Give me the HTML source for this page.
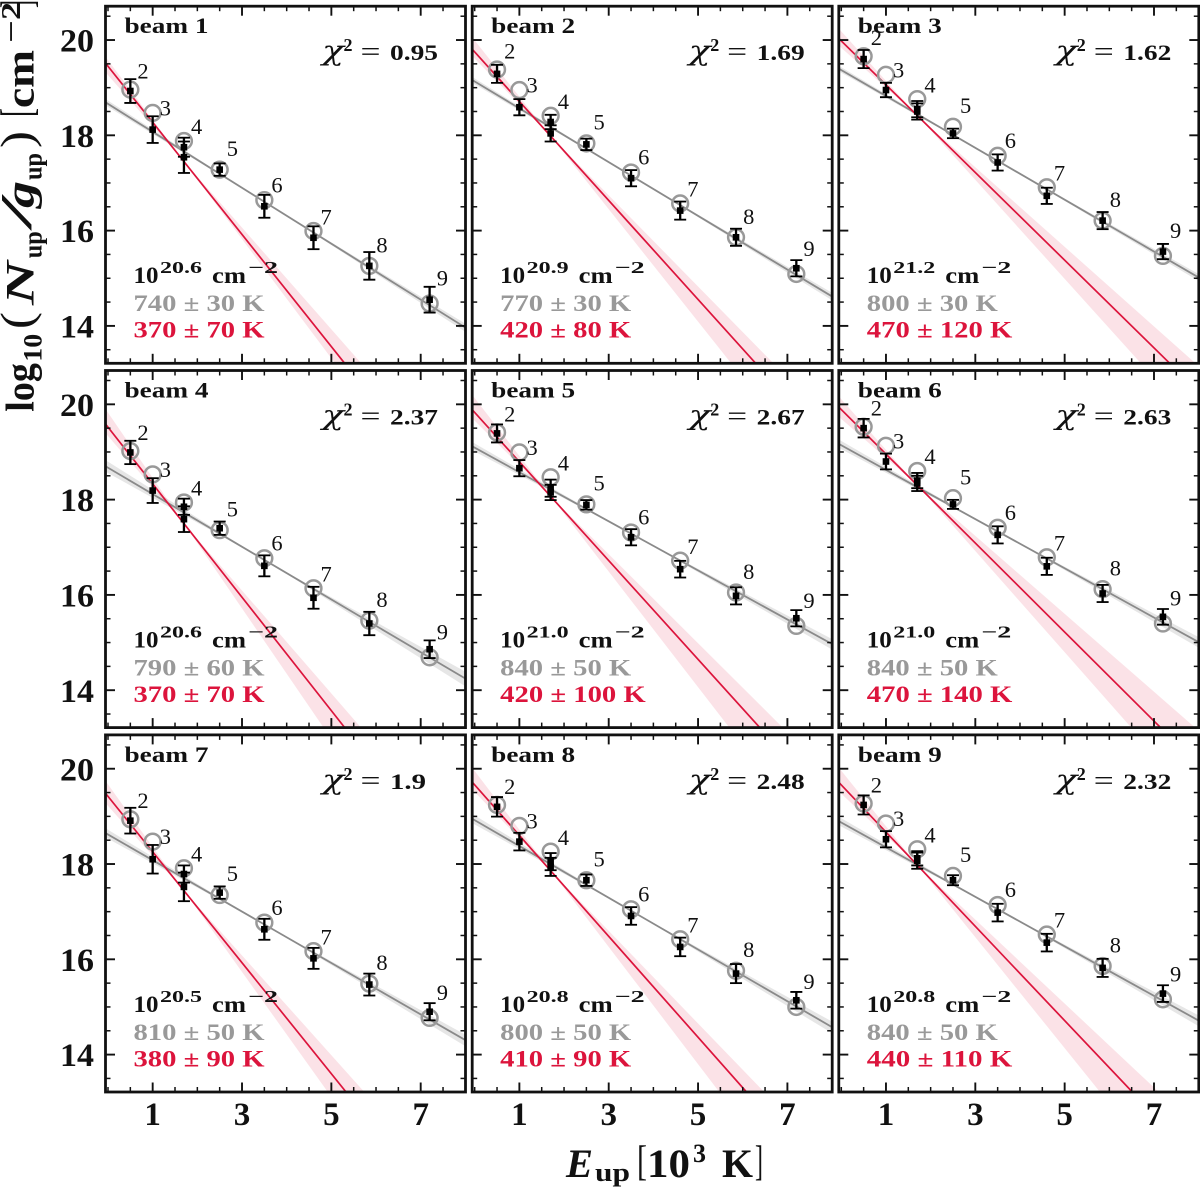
<!DOCTYPE html>
<html lang="en">
<head>
<meta charset="utf-8">
<title>Rotational diagrams for beams 1 to 9</title>
<style>
html,body{margin:0;padding:0;background:#fff;width:1200px;height:1189px;overflow:hidden}
svg{display:block;overflow:hidden}
text{font-family:"Liberation Serif","DejaVu Serif",serif;fill:#111}
.b{font-weight:bold}
.bi{font-weight:bold;font-style:italic}
</style>
</head>
<body>
<svg id="figure" xmlns="http://www.w3.org/2000/svg" width="1200" height="1189" viewBox="0 0 1200 1189">
  <rect x="0" y="0" width="1200" height="1189" fill="#fff"/>
  <defs id="clip-defs"></defs>
  <g id="panels"></g>
  <g>
    <text class="b" font-size="40" x="33.5" y="411.7" transform="rotate(-90 33.5 411.7)" textLength="48.5" lengthAdjust="spacingAndGlyphs">log</text>
    <text class="b" font-size="26" x="41.5" y="361.7" transform="rotate(-90 41.5 361.7)" textLength="28" lengthAdjust="spacingAndGlyphs">10</text>
    <text font-size="46" x="32" y="329" transform="rotate(-90 32 329)" textLength="17" lengthAdjust="spacingAndGlyphs">(</text>
    <text class="bi" font-size="40" x="33.5" y="305" transform="rotate(-90 33.5 305)" textLength="44" lengthAdjust="spacingAndGlyphs">N</text>
    <text class="b" font-size="26" x="41.5" y="258.3" transform="rotate(-90 41.5 258.3)" textLength="27" lengthAdjust="spacingAndGlyphs">up</text>
    <text font-size="44" x="31" y="231" transform="rotate(-90 31 231)" textLength="37" lengthAdjust="spacingAndGlyphs">/</text>
    <text class="bi" font-size="40" x="33.5" y="208" transform="rotate(-90 33.5 208)" textLength="27" lengthAdjust="spacingAndGlyphs">g</text>
    <text class="b" font-size="26" x="41.5" y="180" transform="rotate(-90 41.5 180)" textLength="27" lengthAdjust="spacingAndGlyphs">up</text>
    <text font-size="46" x="32" y="148" transform="rotate(-90 32 148)" textLength="17" lengthAdjust="spacingAndGlyphs">)</text>
    <text font-size="46" x="32" y="117" transform="rotate(-90 32 117)" textLength="9" lengthAdjust="spacingAndGlyphs">[</text>
    <text class="b" font-size="40" x="33.5" y="108" transform="rotate(-90 33.5 108)" textLength="58" lengthAdjust="spacingAndGlyphs">cm</text>
    <text class="b" font-size="27" x="20" y="43" transform="rotate(-90 20 43)" textLength="23" lengthAdjust="spacingAndGlyphs">−</text>
    <text class="b" font-size="27" x="20" y="20" transform="rotate(-90 20 20)" textLength="18" lengthAdjust="spacingAndGlyphs">2</text>
    <text font-size="46" x="32" y="8" transform="rotate(-90 32 8)" textLength="8" lengthAdjust="spacingAndGlyphs">]</text>
  </g>
  <g>
    <text class="bi" font-size="40" x="566" y="1177" textLength="27" lengthAdjust="spacingAndGlyphs">E</text>
    <text class="b" font-size="26" x="595" y="1181" textLength="35" lengthAdjust="spacingAndGlyphs">up</text>
    <text font-size="42" x="637" y="1175" textLength="10" lengthAdjust="spacingAndGlyphs">[</text>
    <text class="b" font-size="40" x="647" y="1177" textLength="43" lengthAdjust="spacingAndGlyphs">10</text>
    <text class="b" font-size="26" x="693" y="1162" textLength="13" lengthAdjust="spacingAndGlyphs">3</text>
    <text class="b" font-size="40" x="722" y="1177" textLength="31" lengthAdjust="spacingAndGlyphs">K</text>
    <text font-size="42" x="755" y="1175" textLength="8" lengthAdjust="spacingAndGlyphs">]</text>
  </g>
</svg>
<script>
// ---------- data ----------
const beamNumbers = [1, 2, 3, 4, 5, 6, 7, 8, 9];
const chiSquared = ['0.95', '1.69', '1.62', '2.37', '2.67', '2.63', '1.9', '2.48', '2.32'];
const columnExponent = ['20.6', '20.9', '21.2', '20.6', '21.0', '21.0', '20.5', '20.8', '20.8'];
const warmLabels = ['740 ± 30 K', '770 ± 30 K', '800 ± 30 K', '790 ± 60 K', '840 ± 50 K', '840 ± 50 K', '810 ± 50 K', '800 ± 50 K', '840 ± 50 K'];
const coldLabels = ['370 ± 70 K', '420 ± 80 K', '470 ± 120 K', '370 ± 70 K', '420 ± 100 K', '470 ± 140 K', '380 ± 90 K', '410 ± 90 K', '440 ± 110 K'];

const transitions = [2, 3, 4, 5, 6, 7, 8, 9];
const modelEnergies = [0.5, 1.0, 1.7, 2.5, 3.5, 4.6, 5.85, 7.2];
const pointEnergies = [0.5, 1.0, 1.7, 1.7, 2.5, 3.5, 4.6, 5.85, 7.2];

const modelValues = [
  [18.96, 18.47, 17.88, 17.28, 16.64, 15.99, 15.26, 14.47],
  [19.38, 18.95, 18.41, 17.83, 17.22, 16.57, 15.86, 15.09],
  [19.66, 19.27, 18.76, 18.18, 17.57, 16.91, 16.21, 15.47],
  [19.02, 18.53, 17.94, 17.36, 16.77, 16.14, 15.46, 14.69],
  [19.41, 18.99, 18.47, 17.90, 17.31, 16.72, 16.05, 15.35],
  [19.53, 19.13, 18.60, 18.03, 17.41, 16.79, 16.12, 15.40],
  [18.94, 18.47, 17.91, 17.35, 16.77, 16.17, 15.49, 14.77],
  [19.24, 18.80, 18.26, 17.66, 17.05, 16.42, 15.76, 15.00],
  [19.27, 18.85, 18.31, 17.75, 17.14, 16.52, 15.86, 15.16]
];
const pointValues = [
  [18.93, 18.12, 17.75, 17.54, 17.28, 16.51, 15.85, 15.26, 14.55],
  [19.29, 18.59, 18.28, 18.04, 17.81, 17.10, 16.42, 15.86, 15.21],
  [19.60, 18.95, 18.55, 18.50, 18.04, 17.43, 16.73, 16.21, 15.56],
  [18.99, 18.19, 17.85, 17.59, 17.40, 16.61, 15.94, 15.40, 14.86],
  [19.39, 18.66, 18.24, 18.15, 17.89, 17.21, 16.54, 15.98, 15.51],
  [19.50, 18.80, 18.40, 18.34, 17.90, 17.26, 16.60, 16.03, 15.54],
  [18.91, 18.10, 17.79, 17.52, 17.40, 16.63, 16.02, 15.47, 14.90],
  [19.20, 18.47, 18.05, 17.94, 17.66, 16.91, 16.26, 15.70, 15.14],
  [19.24, 18.52, 18.12, 18.07, 17.66, 16.98, 16.35, 15.82, 15.28]
];
const pointErrors = [
  [0.25, 0.28, 0.20, 0.33, 0.13, 0.24, 0.24, 0.29, 0.27],
  [0.19, 0.17, 0.15, 0.17, 0.12, 0.17, 0.19, 0.18, 0.17],
  [0.19, 0.15, 0.17, 0.17, 0.10, 0.17, 0.17, 0.18, 0.16],
  [0.245, 0.26, 0.17, 0.27, 0.14, 0.22, 0.23, 0.245, 0.185],
  [0.19, 0.17, 0.18, 0.16, 0.10, 0.17, 0.175, 0.18, 0.17],
  [0.195, 0.165, 0.16, 0.16, 0.095, 0.18, 0.18, 0.18, 0.165],
  [0.27, 0.30, 0.18, 0.30, 0.13, 0.22, 0.22, 0.23, 0.18],
  [0.205, 0.185, 0.18, 0.19, 0.12, 0.185, 0.195, 0.20, 0.175],
  [0.20, 0.17, 0.15, 0.17, 0.105, 0.185, 0.185, 0.19, 0.175]
];

const warmIntercepts = [18.66, 19.13, 19.37, 18.67, 19.09, 19.14, 18.62, 18.92, 18.87];
const warmTemperatures = [740, 770, 798, 785, 843, 841, 805, 800, 836];
const warmUncertainty = [30, 30, 30, 60, 50, 50, 50, 50, 50];

const coldIntercepts = [19.45, 19.75, 19.98, 19.52, 19.83, 19.89, 19.42, 19.66, 19.66];
const coldTemperatures = [369, 418, 472, 365, 419, 465, 373, 410, 439];
const coldBandHigh = [407, 454, 520, 402, 465, 531, 415, 447, 493];
const coldBandLow = [347, 368, 418, 317, 358, 409, 331, 353, 373];

const xTickValues = [0, 0.5, 1, 1.5, 2, 2.5, 3, 3.5, 4, 4.5, 5, 5.5, 6, 6.5, 7, 7.5, 8];
const xTickLabels = [1, 3, 5, 7];
const yTickValues = [13.5, 14, 14.5, 15, 15.5, 16, 16.5, 17, 17.5, 18, 18.5, 19, 19.5, 20, 20.5];
const yTickLabels = [14, 16, 18, 20];

// ---------- layout ----------
const PANEL_W = 360, PANEL_H = 357.1;
const PANEL_LEFTS = [105.5, 472.2, 838.8];
const PANEL_TOPS = [6.2, 370.5, 734.9];
const X_MIN = -0.056, X_MAX = 8.003, Y_MIN = 13.215, Y_MAX = 20.71;
const LN10 = Math.log(10);
const PIVOT_COLD = 1.7, PIVOT_WARM = 3.5;
const LABEL_SHIFT_Y = { 2: -18.3, 3: -4.7, 4: -14, 5: -21, 6: -15, 7: -14, 8: -20.7, 9: -25 };

const svg = document.getElementById('figure');
const panelsRoot = document.getElementById('panels');
const clipDefs = document.getElementById('clip-defs');
const NS = 'http://www.w3.org/2000/svg';

function mk(parent, tag, attrs) {
  const el = document.createElementNS(NS, tag);
  for (const k in attrs) el.setAttribute(k, attrs[k]);
  parent.appendChild(el);
  return el;
}
function txt(parent, str, x, y, size, cls, fill, len, anchor) {
  const el = mk(parent, 'text', { x: x, y: y, 'font-size': size });
  if (cls) el.setAttribute('class', cls);
  if (fill) el.style.fill = fill;
  if (len) {
    el.setAttribute('textLength', len);
    el.setAttribute('lengthAdjust', 'spacingAndGlyphs');
  }
  if (anchor) el.setAttribute('text-anchor', anchor);
  el.textContent = str;
  return el;
}
function slope(T) { return 1000 / (T * LN10); }

beamNumbers.forEach(function (beam, i) {
  const col = i % 3, row = Math.floor(i / 3);
  const L = PANEL_LEFTS[col], T = PANEL_TOPS[row];
  const xs = function (v) { return L + (v - X_MIN) / (X_MAX - X_MIN) * PANEL_W; };
  const ys = function (v) { return T + (Y_MAX - v) / (Y_MAX - Y_MIN) * PANEL_H; };
  const curve = function (a, tK, xv) { return a - slope(tK) * xv; };

  const panel = mk(panelsRoot, 'g', {});
  
  

  const clip = mk(clipDefs, 'clipPath', { id: 'clip' + beam });
  
  
  const clipRect = mk(clip, 'rect', { x: L, y: T, width: PANEL_W, height: PANEL_H });
  
  

  const plot = mk(panel, 'g', { 'clip-path': 'url(#clip' + beam + ')' });
  
  

  // cold component uncertainty band, ended where it leaves the axes
  const pivotCold = curve(coldIntercepts[i], coldTemperatures[i], PIVOT_COLD);
  const coldEdge = function (tK, xv) { return pivotCold - slope(tK) * (xv - PIVOT_COLD); };
  const coldExit = function (tK) { return Math.min(X_MAX, PIVOT_COLD + (pivotCold - Y_MIN) / slope(tK)); };
  const highEnd = coldExit(coldBandHigh[i]);
  const lowEnd = coldExit(coldBandLow[i]);
  const bandPairs = [
    [X_MIN, coldEdge(coldBandLow[i], X_MIN)],
    [PIVOT_COLD, pivotCold],
    [highEnd, coldEdge(coldBandHigh[i], highEnd)]
  ];
  if (highEnd === X_MAX) bandPairs.push([X_MAX, Y_MIN]);
  bandPairs.push([lowEnd, coldEdge(coldBandLow[i], lowEnd)]);
  bandPairs.push([PIVOT_COLD, pivotCold]);
  bandPairs.push([X_MIN, coldEdge(coldBandHigh[i], X_MIN)]);
  const bandPoints = bandPairs.map(function (p) { return xs(p[0]) + ',' + ys(p[1]); }).join(' ');
  const coldBand = mk(plot, 'polygon', { points: bandPoints, fill: '#dc143c', 'fill-opacity': 0.12 });
  
  

  // warm component uncertainty band
  const pivotWarm = curve(warmIntercepts[i], warmTemperatures[i], PIVOT_WARM);
  const warmEdge = function (tK, xv) { return pivotWarm - slope(tK) * (xv - PIVOT_WARM); };
  const warmHi = warmTemperatures[i] + 0.8 * warmUncertainty[i];
  const warmLo = warmTemperatures[i] - 0.8 * warmUncertainty[i];
  const warmXs = [X_MIN, PIVOT_WARM, X_MAX];
  const warmTop = warmXs.map(function (xv) {
    return xs(xv) + ',' + ys(Math.max(warmEdge(warmHi, xv), warmEdge(warmLo, xv)));
  });
  const warmBottom = warmXs.slice().reverse().map(function (xv) {
    return xs(xv) + ',' + ys(Math.min(warmEdge(warmHi, xv), warmEdge(warmLo, xv)));
  });
  const warmBand = mk(plot, 'polygon', { points: warmTop.concat(warmBottom).join(' '), fill: '#808080', 'fill-opacity': 0.2 });
  
  

  // fit lines
  const warmLine = mk(plot, 'line', {
    x1: xs(X_MIN), y1: ys(curve(warmIntercepts[i], warmTemperatures[i], X_MIN)),
    x2: xs(X_MAX), y2: ys(curve(warmIntercepts[i], warmTemperatures[i], X_MAX)),
    stroke: '#8a8a8a', 'stroke-width': 1.8
  });
  
  

  const coldLineEnd = Math.min(X_MAX, (coldIntercepts[i] - Y_MIN) / slope(coldTemperatures[i]));
  const coldLine = mk(plot, 'line', {
    x1: xs(X_MIN), y1: ys(curve(coldIntercepts[i], coldTemperatures[i], X_MIN)),
    x2: xs(coldLineEnd), y2: ys(curve(coldIntercepts[i], coldTemperatures[i], coldLineEnd)),
    stroke: '#dc143c', 'stroke-width': 1.7
  });
  
  

  // model circles and transition labels
  modelEnergies.forEach(function (e, k) {
    const ring = mk(plot, 'circle', { cx: xs(e), cy: ys(modelValues[i][k]), r: 7.9, fill: 'none', stroke: '#999', 'stroke-width': 2.5 });
    
    

    const lab = txt(panel, String(transitions[k]), xs(e) + 12.7, ys(modelValues[i][k]) + LABEL_SHIFT_Y[transitions[k]] + 7.2, 22.5, '', '#111', 0, 'middle');
    
    
  });

  // measured points with error bars
  pointEnergies.forEach(function (e, k) {
    const px = xs(e), v = pointValues[i][k], er = pointErrors[i][k];
    const group = mk(plot, 'g', {});
    
    

    const stem = mk(group, 'line', { x1: px, x2: px, y1: ys(v + er), y2: ys(v - er), stroke: '#000', 'stroke-width': 2.3 });
    
    

    const capTop = mk(group, 'line', { x1: px - 6, x2: px + 6, y1: ys(v + er), y2: ys(v + er), stroke: '#000', 'stroke-width': 1.8 });
    
    

    const capBottom = mk(group, 'line', { x1: px - 6, x2: px + 6, y1: ys(v - er), y2: ys(v - er), stroke: '#000', 'stroke-width': 1.8 });
    
    

    const dot = mk(group, 'rect', { x: px - 3.3, y: ys(v) - 3.3, width: 6.6, height: 6.6, fill: '#000' });
    
    
  });

  // ticks on all four sides
  xTickValues.forEach(function (v) {
    const major = xTickLabels.indexOf(v) >= 0;
    const len = major ? 9.5 : 5;
    const px = xs(v);
    const b = mk(panel, 'line', { x1: px, x2: px, y1: T + PANEL_H, y2: T + PANEL_H - len, stroke: '#111', 'stroke-width': major ? 1.9 : 1.5 });
    
    
    const t = mk(panel, 'line', { x1: px, x2: px, y1: T, y2: T + len, stroke: '#111', 'stroke-width': major ? 1.9 : 1.5 });
    
    
  });
  yTickValues.forEach(function (v) {
    const major = yTickLabels.indexOf(v) >= 0;
    const len = major ? 9.5 : 5;
    const py = ys(v);
    const l = mk(panel, 'line', { x1: L, x2: L + len, y1: py, y2: py, stroke: '#111', 'stroke-width': major ? 1.9 : 1.5 });
    
    
    const r = mk(panel, 'line', { x1: L + PANEL_W, x2: L + PANEL_W - len, y1: py, y2: py, stroke: '#111', 'stroke-width': major ? 1.9 : 1.5 });
    
    
  });

  const frame = mk(panel, 'rect', { x: L, y: T, width: PANEL_W, height: PANEL_H, fill: 'none', stroke: '#111', 'stroke-width': 2.8 });
  
  

  // tick labels only on outer panels
  if (col === 0) {
    yTickLabels.forEach(function (v) {
      const lab = txt(panel, String(v), 60, ys(v) + 11.6, 33, 'b', '#111', 34);
      
      
    });
  }
  if (row === 2) {
    xTickLabels.forEach(function (v) {
      const lab = txt(panel, String(v), xs(v), 1125, 33, 'b', '#111', 0, 'middle');
      
      
    });
  }

  // annotations
  const beamTitle = txt(panel, 'beam ' + beam, L + 19, T + 27, 22, 'b', '#111', 84);
  
  

  const chiGlyph = txt(panel, 'χ', L + 216.5, T + 54, 27, '', '#111', 22);
  
  chiGlyph.style.fontFamily = '"DejaVu Serif", serif';
  chiGlyph.style.fontStyle = 'italic';
  

  const chiPower = txt(panel, '2', L + 238, T + 45, 18, 'b', '#111', 9);
  
  

  const chiEquals = txt(panel, '=', L + 255, T + 54.5, 27, '', '#111', 20);
  
  

  const chiValue = txt(panel, chiSquared[i], L + 284.5, T + 54, 22, 'b', '#111', 12 * chiSquared[i].length);
  
  

  const colBase = txt(panel, '10', L + 28, T + 277, 23, 'b', '#111', 25);
  
  

  const colPower = txt(panel, columnExponent[i], L + 54.5, T + 267, 17, 'b', '#111', 42);
  
  

  const colUnit = txt(panel, 'cm', L + 106.5, T + 277, 23, 'b', '#111', 34);
  
  

  const colUnitPower = txt(panel, '−2', L + 142.5, T + 267, 17, 'b', '#111', 30);
  
  

  const warmText = txt(panel, warmLabels[i], L + 28, T + 305, 23, 'b', '#999', 131 + (warmLabels[i].length - 10) * 14.5);
  
  

  const coldText = txt(panel, coldLabels[i], L + 28, T + 331.5, 23, 'b', '#dc143c', 131 + (coldLabels[i].length - 10) * 14.5);
  
  
});
</script>
</body>
</html>
